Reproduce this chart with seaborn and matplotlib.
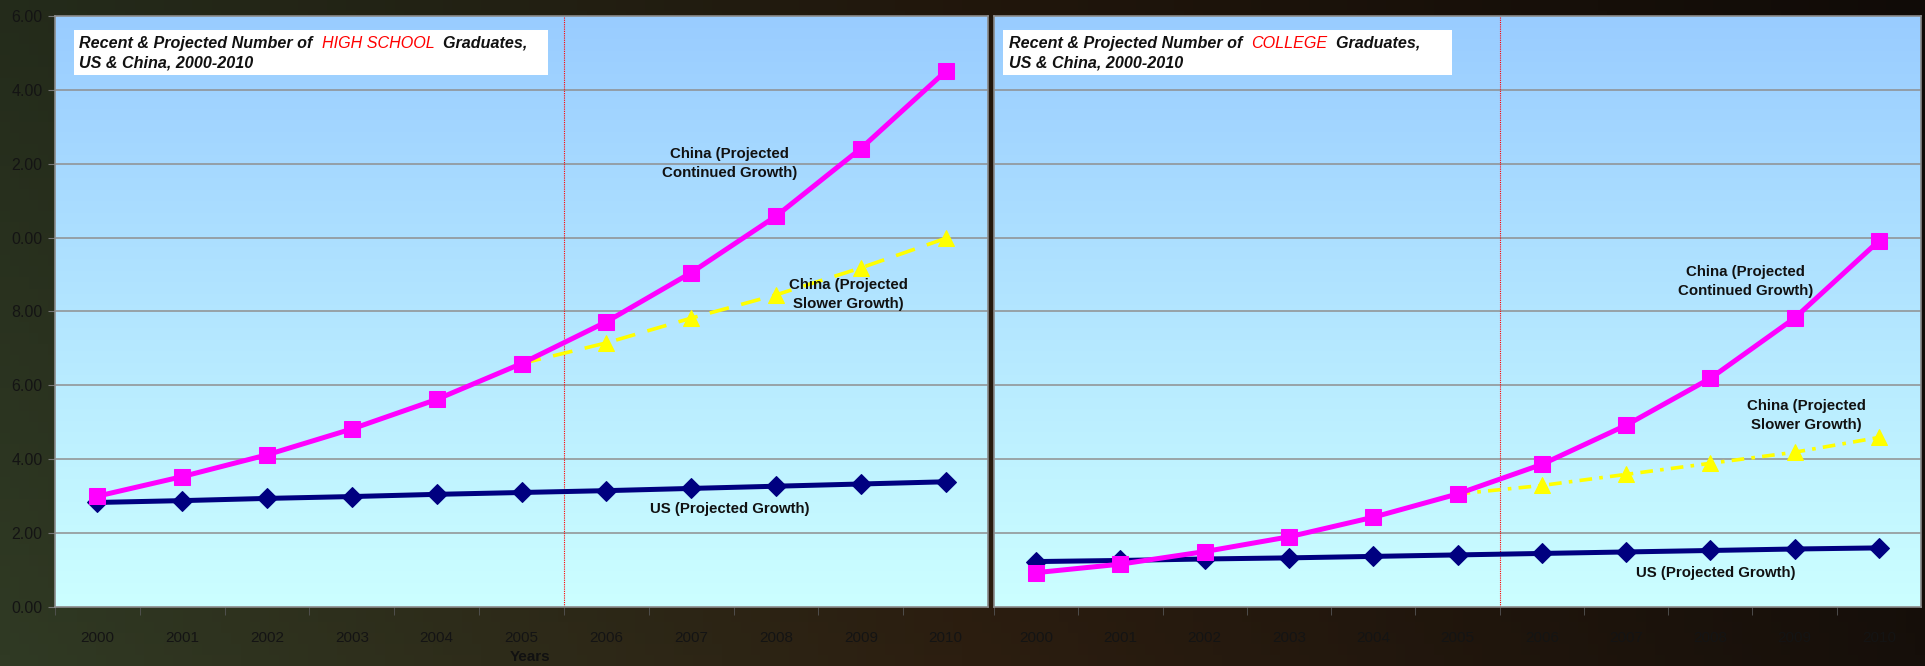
import numpy as np
import pandas as pd
import matplotlib
matplotlib.use("Agg")
import matplotlib.pyplot as plt
import seaborn as sns
from matplotlib.patches import Rectangle

# ---------------- data ----------------
years = [2000, 2001, 2002, 2003, 2004, 2005, 2006, 2007, 2008, 2009, 2010]
year_labels = [str(y) for y in years]
slow_years = [2005, 2006, 2007, 2008, 2009, 2010]

ytick_values = [0, 2, 4, 6, 8, 10, 12, 14, 16]
ytick_labels = ["0.00", "2.00", "4.00", "6.00", "8.00", "0.00", "2.00", "4.00", "6.00"]

hs_china = [3.00, 3.53, 4.12, 4.82, 5.62, 6.59, 7.72, 9.05, 10.58, 12.41, 14.50]
hs_china_slow = [6.59, 7.15, 7.82, 8.45, 9.18, 9.98]
hs_us = [2.83, 2.88, 2.94, 2.99, 3.05, 3.10, 3.15, 3.21, 3.27, 3.33, 3.39]

col_china = [0.93, 1.16, 1.50, 1.90, 2.43, 3.06, 3.86, 4.92, 6.19, 7.82, 9.91]
col_china_slow = [3.06, 3.29, 3.59, 3.89, 4.19, 4.59]
col_us = [1.23, 1.26, 1.30, 1.33, 1.37, 1.41, 1.45, 1.49, 1.53, 1.57, 1.60]

# ---------------- style ----------------
sns.set_style("white")
plt.rcParams["font.family"] = ["Liberation Sans", "DejaVu Sans"]

W, H = 1925, 666
fig = plt.figure(figsize=(W / 100, H / 100), dpi=100)

# dark background image
bg = fig.add_axes([0, 0, 1, 1], zorder=-10)
nx, ny = 200, 60
xs = np.linspace(0, 1, nx)[None, :, None]
ys = np.linspace(0, 1, ny)[:, None, None]
left_c = np.array([48, 58, 36]) / 255
mid_c = np.array([44, 30, 16]) / 255
right_c = np.array([22, 15, 10]) / 255
wx = xs
img = np.where(wx < 0.5, left_c * (1 - wx * 2) + mid_c * (wx * 2),
               mid_c * (1 - (wx - 0.5) * 2) + right_c * ((wx - 0.5) * 2))
img = img * np.ones((ny, nx, 3))
img = img * (0.75 + 0.25 * ys)
bg.imshow(img, extent=[0, 1, 0, 1], aspect="auto", origin="upper")
bg.set_axis_off()

grad_top = np.array([153, 204, 255]) / 255
grad_bot = np.array([204, 255, 255]) / 255
grad = np.linspace(0, 1, 256)[:, None, None]
grad_img = grad_top * (1 - grad) + grad_bot * grad


def panel(rect, china, china_slow, us, slow_ls, title_word, labels_pos, show_y):
    ax = fig.add_axes(rect)
    ax.imshow(grad_img * np.ones((256, 2, 3)), extent=[0, 1, 0, 1],
              transform=ax.transAxes, aspect="auto", zorder=0)
    ax.set_xlim(1999.5, 2010.5)
    ax.set_ylim(0, 16)
    for v in ytick_values[1:-1]:
        ax.axhline(v, color="#8f8f8f", lw=1.1, zorder=1)
    ax.axvline(2005.5, color="red", lw=0.8, ls=(0, (1, 1)), zorder=1)

    sns.lineplot(x=slow_years, y=china_slow, ax=ax, color="#FFFF00", lw=2.6,
                 linestyle=slow_ls, marker="^", markersize=11,
                 markeredgecolor="#FFFF00", zorder=3)
    sns.lineplot(x=years, y=us, ax=ax, color="#000080", lw=3.6, marker="D",
                 markersize=10, markeredgecolor="#000080", zorder=4)
    sns.lineplot(x=years, y=china, ax=ax, color="#FF00FF", lw=3.6, marker="s",
                 markersize=11, markeredgecolor="#FF00FF", zorder=5)

    ax.set_xticks(years)
    ax.set_xticklabels(year_labels, fontsize=11, color="#141414")
    ax.set_xticks([y + 0.5 for y in years[:-1]] + [1999.5], minor=True)
    ax.tick_params(axis="x", which="major", length=0, pad=17)
    ax.tick_params(axis="x", which="minor", length=6, color="#555555",
                   direction="out", bottom=True)
    ax.set_yticks(ytick_values)
    if show_y:
        ax.set_yticklabels(ytick_labels, fontsize=11.5, color="#141414")
        ax.tick_params(axis="y", length=5, color="#777777", direction="out",
                       left=True, pad=4)
    else:
        ax.tick_params(axis="y", length=0, labelleft=False)
    ax.set_xlabel("")
    ax.set_ylabel("")
    for s in ax.spines.values():
        s.set_color("#8a8a8a")
        s.set_linewidth(1.2)
        s.set_zorder(6)
    ax.grid(False)

    # title box
    bx0, bx1, by0, by1 = labels_pos["box"]
    ax.add_patch(Rectangle((bx0, by0), bx1 - bx0, by1 - by0,
                           transform=ax.transAxes, facecolor="white",
                           edgecolor="none", zorder=7))
    tx, ty1, ty2 = labels_pos["title"]
    fs = 11.6
    fkw = dict(fontsize=fs, fontweight="bold", fontstyle="italic")
    t = ax.text(tx, ty1, "Recent & Projected Number of  ", transform=ax.transAxes,
                ha="left", va="baseline", color="#111111", zorder=8, **fkw)
    t2 = ax.annotate(title_word, xy=(1, 0), xycoords=t, ha="left", va="bottom",
                     color="#FF0000", zorder=8, annotation_clip=False,
                     fontsize=fs, fontstyle="italic")
    ax.annotate("  Graduates,", xy=(1, 0), xycoords=t2, ha="left", va="bottom",
                color="#111111", zorder=8, annotation_clip=False, **fkw)
    ax.text(tx, ty2, "US & China, 2000-2010", transform=ax.transAxes,
            ha="left", va="baseline", color="#111111", zorder=8, **fkw)

    lkw = dict(fontsize=10.8, fontweight="bold", color="#111111", ha="center",
               va="center", linespacing=1.45, zorder=8)
    for txt, (x, y) in labels_pos["notes"]:
        ax.text(x, y, txt, **lkw)
    return ax


left_rect = [55 / W, 59 / H, 933 / W, 591 / H]
right_rect = [994 / W, 59 / H, 927 / W, 591 / H]

panel(left_rect, hs_china, hs_china_slow, hs_us, (0, (5.5, 3.5)), "HIGH SCHOOL",
      {"box": (0.02, 0.528, 0.9, 0.977),
       "title": (0.026, 0.946, 0.913),
       "notes": [("China (Projected\nContinued Growth)", (2007.45, 12.0)),
                 ("China (Projected\nSlower Growth)", (2008.85, 8.45)),
                 ("US (Projected Growth)", (2007.46, 2.66))]},
      True)

panel(right_rect, col_china, col_china_slow, col_us, (0, (3.5, 2.0, 1.0, 2.0)),
      "COLLEGE",
      {"box": (0.01, 0.494, 0.9, 0.977),
       "title": (0.016, 0.946, 0.913),
       "notes": [("China (Projected\nContinued Growth)", (2008.42, 8.82)),
                 ("China (Projected\nSlower Growth)", (2009.14, 5.19)),
                 ("US (Projected Growth)", (2008.06, 0.93))]},
      False)

fig.text(530 / W, 16 / H, "Years", fontsize=11, fontweight="bold",
         color="#111111", ha="center", va="top")

fig.savefig("out.png", dpi=100)
